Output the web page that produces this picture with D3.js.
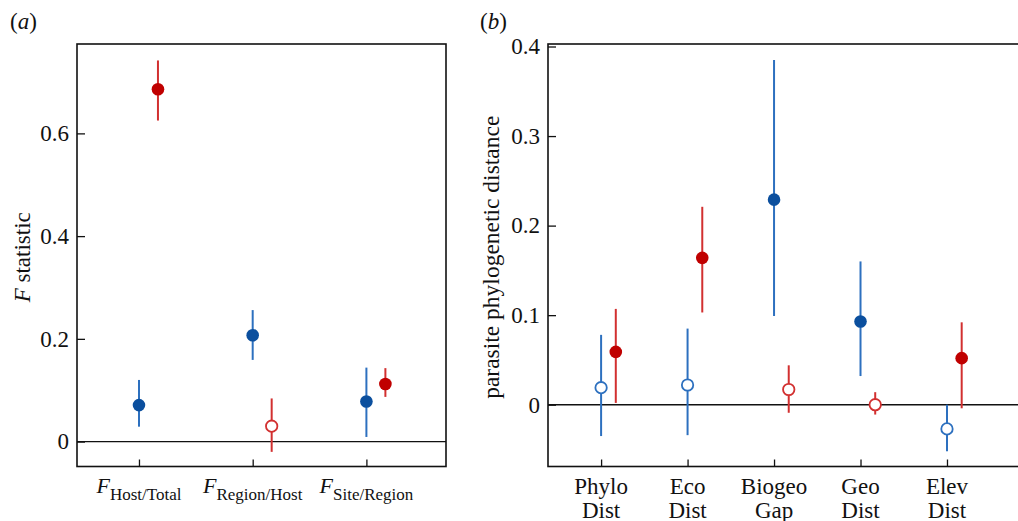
<!DOCTYPE html>
<html>
<head>
<meta charset="utf-8">
<script src="https://cdn.jsdelivr.net/npm/d3@7"></script>
<style>
  html, body { margin: 0; padding: 0; background: #fff; }
  svg text { font-family: "Liberation Serif", "Times New Roman", serif; fill: #111; }
</style>
</head>
<body>
<svg id="chart" width="1018" height="521"></svg>
<script>
// panel (a): F statistics per hierarchical level
const catsA = ['Host/Total', 'Region/Host', 'Site/Region'];
const blueA = [0.071, 0.207, 0.078];
const blueALo = [0.029, 0.159, 0.009];
const blueAHi = [0.120, 0.256, 0.144];
const blueAFilled = [true, true, true];
const redA = [0.686, 0.030, 0.112];
const redALo = [0.625, -0.020, 0.087];
const redAHi = [0.742, 0.084, 0.143];
const redAFilled = [true, false, true];
const ticksA = [0, 0.2, 0.4, 0.6];

// panel (b): parasite phylogenetic distance per predictor
const catsB = [['Phylo', 'Dist'], ['Eco', 'Dist'], ['Biogeo', 'Gap'], ['Geo', 'Dist'], ['Elev', 'Dist']];
const blueB = [0.019, 0.022, 0.229, 0.093, -0.027];
const blueBLo = [-0.035, -0.034, 0.099, 0.032, -0.052];
const blueBHi = [0.078, 0.085, 0.385, 0.160, 0.0];
const blueBFilled = [false, false, true, true, false];
const redB = [0.059, 0.164, 0.017, 0.0, 0.052];
const redBLo = [0.002, 0.103, -0.009, -0.011, -0.004];
const redBHi = [0.107, 0.221, 0.044, 0.014, 0.092];
const redBFilled = [true, true, false, false, true];
const ticksB = [0, 0.1, 0.2, 0.3, 0.4];

const COLOURS = {
  blueDot: '#0b4f9e',
  blueLine: '#2d70bf',
  redDot: '#c00000',
  redLine: '#d23030',
  axis: '#111'
};

const svg = d3.select('#chart');
const fmt = (d) => (d === 0 ? '0' : d.toFixed(1));

function series(vals, lo, hi, filled, offset, dot, line) {
  return vals.map((v, i) => ({ pos: i + 1 + offset, v, lo: lo[i], hi: hi[i], filled: filled[i], dot, line }));
}

function drawPanel({ box, xDomain, yDomain, ticks, points, label }) {
  const x = d3.scaleLinear().domain(xDomain).range([box.left, box.right]);
  const y = d3.scaleLinear().domain(yDomain).range([box.bottom, box.top]);
  const g = svg.append('g');

  g.append('text')
    .attr('x', label.x)
    .attr('y', 29)
    .style('font-size', '23px')
    .html(`(<tspan font-style="italic">${label.text}</tspan>)`);

  // zero reference line
  g.append('line')
    .attr('x1', box.left).attr('x2', box.right)
    .attr('y1', y(0)).attr('y2', y(0))
    .attr('stroke', COLOURS.axis)
    .attr('stroke-width', 1.4);

  g.append('g')
    .attr('transform', `translate(${box.left},0)`)
    .call(d3.axisLeft(y).tickValues(ticks).tickFormat(fmt).tickSizeInner(-8).tickSizeOuter(0).tickPadding(8))
    .call((a) => a.select('.domain').remove())
    .call((a) => a.selectAll('line').attr('stroke', COLOURS.axis).attr('stroke-width', 1.3))
    .call((a) => a.selectAll('text').attr('font-family', null).style('font-size', '23px').attr('fill', '#111'));

  const xTicks = d3.range(1, points.cats + 1);
  g.append('g')
    .attr('transform', `translate(0,${box.bottom})`)
    .call(d3.axisBottom(x).tickValues(xTicks).tickFormat('').tickSizeInner(-7).tickSizeOuter(0))
    .call((a) => a.select('.domain').remove())
    .call((a) => a.selectAll('line').attr('stroke', COLOURS.axis).attr('stroke-width', 1.3));

  g.append('rect')
    .attr('x', box.left).attr('y', box.top)
    .attr('width', box.right - box.left).attr('height', box.bottom - box.top)
    .attr('fill', 'none')
    .attr('stroke', COLOURS.axis)
    .attr('stroke-width', 1.6);

  const all = points.data;
  g.selectAll('line.err')
    .data(all)
    .join('line')
    .attr('class', 'err')
    .attr('x1', (d) => x(d.pos)).attr('x2', (d) => x(d.pos))
    .attr('y1', (d) => y(d.lo)).attr('y2', (d) => y(d.hi))
    .attr('stroke', (d) => d.line)
    .attr('stroke-width', 2);

  g.selectAll('circle.pt')
    .data(all)
    .join('circle')
    .attr('class', 'pt')
    .attr('cx', (d) => x(d.pos))
    .attr('cy', (d) => y(d.v))
    .attr('r', (d) => (d.filled ? 6.3 : 5.7))
    .attr('fill', (d) => (d.filled ? d.dot : '#fff'))
    .attr('stroke', (d) => (d.filled ? 'none' : d.line))
    .attr('stroke-width', 1.8);

  return { x, y, g };
}

// (a)
const boxA = { left: 77, right: 446, top: 44, bottom: 466.5 };
const pa = drawPanel({
  box: boxA,
  xDomain: [0.455, 3.7],
  yDomain: [-0.0485, 0.774],
  ticks: ticksA,
  label: { text: 'a', x: 10 },
  points: {
    cats: catsA.length,
    data: [
      ...series(blueA, blueALo, blueAHi, blueAFilled, 0, COLOURS.blueDot, COLOURS.blueLine),
      ...series(redA, redALo, redAHi, redAFilled, 0.167, COLOURS.redDot, COLOURS.redLine)
    ]
  }
});

catsA.forEach((c, i) => {
  pa.g.append('text')
    .attr('x', pa.x(i + 1))
    .attr('y', 493)
    .attr('text-anchor', 'middle')
    .html(`<tspan font-style="italic" style="font-size:22px">F</tspan><tspan dy="7" style="font-size:17px">${c}</tspan>`);
});

pa.g.append('text')
  .attr('transform', `translate(30,${(boxA.top + boxA.bottom) / 2 + 2}) rotate(-90)`)
  .attr('text-anchor', 'middle')
  .style('font-size', '23px')
  .html('<tspan font-style="italic">F</tspan> statistic');

// (b)
const boxB = { left: 548, right: 1030, top: 44, bottom: 466.5 };
const pb = drawPanel({
  box: boxB,
  xDomain: [0.386, 5.96],
  yDomain: [-0.069, 0.4028],
  ticks: ticksB,
  label: { text: 'b', x: 480 },
  points: {
    cats: catsB.length,
    data: [
      ...series(blueB, blueBLo, blueBHi, blueBFilled, 0, COLOURS.blueDot, COLOURS.blueLine),
      ...series(redB, redBLo, redBHi, redBFilled, 0.17, COLOURS.redDot, COLOURS.redLine)
    ]
  }
});

catsB.forEach((c, i) => {
  const t = pb.g.append('text')
    .attr('text-anchor', 'middle')
    .style('font-size', '23px');
  c.forEach((line, j) => {
    t.append('tspan')
      .attr('x', pb.x(i + 1))
      .attr('y', 494 + j * 24)
      .text(line);
  });
});

pb.g.append('text')
  .attr('transform', `translate(499,${(boxB.top + boxB.bottom) / 2 + 2}) rotate(-90)`)
  .attr('text-anchor', 'middle')
  .style('font-size', '23.5px')
  .text('parasite phylogenetic distance');
</script>
</body>
</html>
